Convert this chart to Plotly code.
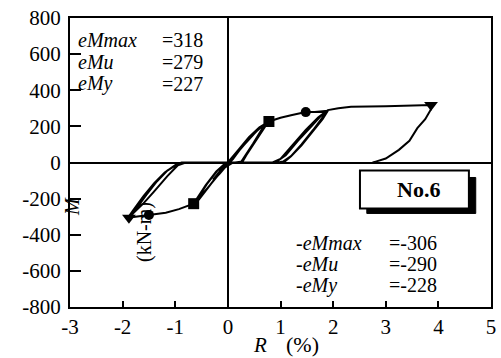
import plotly.graph_objects as go

# Hysteresis loop (R %, M kN-m)
R_curve = [
    # small cycles
    0, 0.15, 0.3, 0.25, 0.1, 0.03, -0.05, -0.15, -0.28, -0.22, -0.08, 0, 0.15, 0.3, 0.25, 0.1, 0, -0.15, -0.28, -0.2, -0.05, 0,
    # cycles to the yield point
    0.2, 0.4, 0.6, 0.78, 0.7, 0.5, 0.35, 0.28, 0.1, 0, -0.2, -0.4, -0.55, -0.65, -0.58, -0.4, -0.2, -0.05,
    0.05, 0.3, 0.55, 0.75, 0.68, 0.48, 0.32, 0.25, 0.05, -0.1, -0.35, -0.55, -0.68, -0.6, -0.42, -0.22, -0.05, 0,
    # large cycles
    0.3, 0.6, 0.78, 1.0, 1.2, 1.48, 1.65, 1.9,
    1.8, 1.6, 1.4, 1.2, 1.08, 1.0, 0.5, 0.1, -0.1, -0.35, -0.65, -0.93, -1.18, -1.35, -1.5, -1.7, -1.9,
    -1.8, -1.6, -1.4, -1.2, -1.0, -0.88, -0.5, 0, 0.5, 0.9, 1.1, 1.33, 1.57, 1.76, 1.88,
    1.8, 1.62, 1.4, 1.2, 1.05, 0.95, 0.3, -0.3, -0.8, -0.95, -1.15, -1.4, -1.6, -1.78, -1.85,
    -1.75, -1.55, -1.35, -1.15, -0.95, -0.82, 0, 0.85, 1.0, 1.24, 1.48, 1.72, 1.9,
    # final push and unloading
    2.1, 2.34, 3.0, 3.5, 3.86, 3.86, 3.75, 3.6, 3.45, 3.25, 3.0, 2.81, 2.75]
M_curve = [
    0, 55, 105, 85, 20, 0, -25, -60, -100, -80, -20, 0, 50, 100, 80, 20, 0, -55, -95, -65, -10, 0,
    70, 140, 195, 227, 195, 110, 40, 5, 0, -5, -75, -150, -200, -228, -200, -120, -45, -5,
    10, 95, 175, 225, 200, 105, 30, 2, 0, -35, -130, -205, -232, -205, -125, -50, -5, 0,
    100, 190, 227, 248, 262, 279, 280, 287,
    240, 165, 95, 35, 5, 0, 0, 0, -35, -130, -228, -258, -278, -285, -290, -298, -306,
    -265, -185, -115, -55, -15, 0, 0, 0, 0, 0, 40, 120, 195, 255, 285,
    250, 180, 100, 35, 5, 0, 0, 0, 0, -15, -75, -160, -225, -275, -300,
    -260, -180, -105, -45, -8, 0, 0, 0, 20, 100, 180, 250, 290,
    300, 309, 312, 316, 318, 295, 240, 190, 120, 70, 22, 5, 0]

# Characteristic points
R_y = [0.78, -0.65]; M_y = [227, -228]
R_u = [1.48, -1.50]; M_u = [279, -290]
R_max = [3.86, -1.88]; M_max = [318, -306]

x_ticks = [-3, -2, -1, 0, 1, 2, 3, 4, 5]
x_ticktext = ["-3", "-2", "-1", "0", "1", "2", "3", "4", "5"]
y_ticks = [-800, -600, -400, -200, 0, 200, 400, 600, 800]
y_ticktext = ["-800", "-600", "-400", "-200", "0", "200", "400", "600", "800"]

FONT = "Liberation Serif"

fig = go.Figure()
fig.add_trace(go.Scatter(x=R_curve, y=M_curve, mode="lines",
                         line=dict(color="black", width=2), showlegend=False))
fig.add_trace(go.Scatter(x=R_y, y=M_y, mode="markers",
                         marker=dict(symbol="square", size=11, color="black"), showlegend=False))
fig.add_trace(go.Scatter(x=R_u, y=M_u, mode="markers",
                         marker=dict(symbol="circle", size=10, color="black"), showlegend=False))
fig.add_trace(go.Scatter(x=R_max, y=M_max, mode="markers",
                         marker=dict(symbol="triangle-down", size=12, color="black"), showlegend=False))

axis_common = dict(showline=True, mirror=True, linecolor="black", linewidth=2,
                   showgrid=False, zeroline=True, zerolinecolor="black", zerolinewidth=2,
                   ticks="inside", tickcolor="black", tickwidth=2, automargin=False,
                   tickfont=dict(family=FONT, size=21, color="black"))

fig.update_layout(
    width=501, height=358,
    margin=dict(l=70, r=10, t=18, b=51, autoexpand=False),
    paper_bgcolor="white", plot_bgcolor="white",
    xaxis=dict(range=[-3, 5], tickvals=x_ticks, ticktext=x_ticktext, ticklen=6, **axis_common),
    yaxis=dict(range=[-800, 800], tickvals=y_ticks, ticktext=y_ticktext, ticklen=11,
               ticklabelstandoff=3, **axis_common),
    font=dict(family=FONT, color="black"),
)

# No.6 box with shadow
fig.add_shape(type="rect", xref="x", yref="y", x0=2.64, x1=4.71, y0=-282, y1=-83,
              fillcolor="black", line=dict(color="black", width=1))
fig.add_shape(type="rect", xref="x", yref="y", x0=2.51, x1=4.58, y0=-254, y1=-44,
              fillcolor="white", line=dict(color="black", width=2))

# convert pixel positions to paper coordinates
L, T, W, H = 70, 18, 421, 289
def px(xp):
    return (xp - L) / W
def py_(yp):
    return 1 - (yp - T) / H

fig.add_annotation(x=3.62, y=-150, xref="x", yref="y", text="<b>No.6</b>", showarrow=False,
                   font=dict(family=FONT, size=22, color="black"), xanchor="center", yanchor="middle")

labels_pos = ["<i>eMmax</i>", "<i>eMu</i>", "<i>eMy</i>"]
values_pos = ["=318", "=279", "=227"]
labels_neg = ["<i>-eMmax</i>", "<i>-eMu</i>", "<i>-eMy</i>"]
values_neg = ["=-306", "=-290", "=-228"]

for i, (lab, val) in enumerate(zip(labels_pos, values_pos)):
    yy = 40 + i * 22
    fig.add_annotation(x=px(76), y=py_(yy), xref="paper", yref="paper", text=lab, showarrow=False,
                       xanchor="left", yanchor="middle", font=dict(family=FONT, size=20, color="black"))
    fig.add_annotation(x=px(160), y=py_(yy), xref="paper", yref="paper", text=val, showarrow=False,
                       xanchor="left", yanchor="middle", font=dict(family=FONT, size=20, color="black"))
for i, (lab, val) in enumerate(zip(labels_neg, values_neg)):
    yy = 243 + i * 21
    fig.add_annotation(x=px(294), y=py_(yy), xref="paper", yref="paper", text=lab, showarrow=False,
                       xanchor="left", yanchor="middle", font=dict(family=FONT, size=20, color="black"))
    fig.add_annotation(x=px(387), y=py_(yy), xref="paper", yref="paper", text=val, showarrow=False,
                       xanchor="left", yanchor="middle", font=dict(family=FONT, size=20, color="black"))

# axis titles
fig.add_annotation(x=px(72), y=py_(207), xref="paper", yref="paper", text="<i>M</i>", showarrow=False,
                   textangle=-90, xanchor="center", yanchor="middle",
                   font=dict(family=FONT, size=20, color="black"))
fig.add_annotation(x=px(144), y=py_(232), xref="paper", yref="paper", text="(kN-m)", showarrow=False,
                   textangle=-90, xanchor="center", yanchor="middle",
                   font=dict(family=FONT, size=20, color="black"))
fig.add_annotation(x=px(260), y=py_(345), xref="paper", yref="paper", text="<i>R</i>", showarrow=False,
                   xanchor="center", yanchor="middle",
                   font=dict(family=FONT, size=21, color="black"))
fig.add_annotation(x=px(284), y=py_(344), xref="paper", yref="paper", text="(%)", showarrow=False,
                   xanchor="left", yanchor="middle",
                   font=dict(family=FONT, size=22, color="black"))

fig.write_html("out.html", config={"displayModeBar": False},
               post_script="document.body.style.margin='0px';document.body.style.padding='0px';")
